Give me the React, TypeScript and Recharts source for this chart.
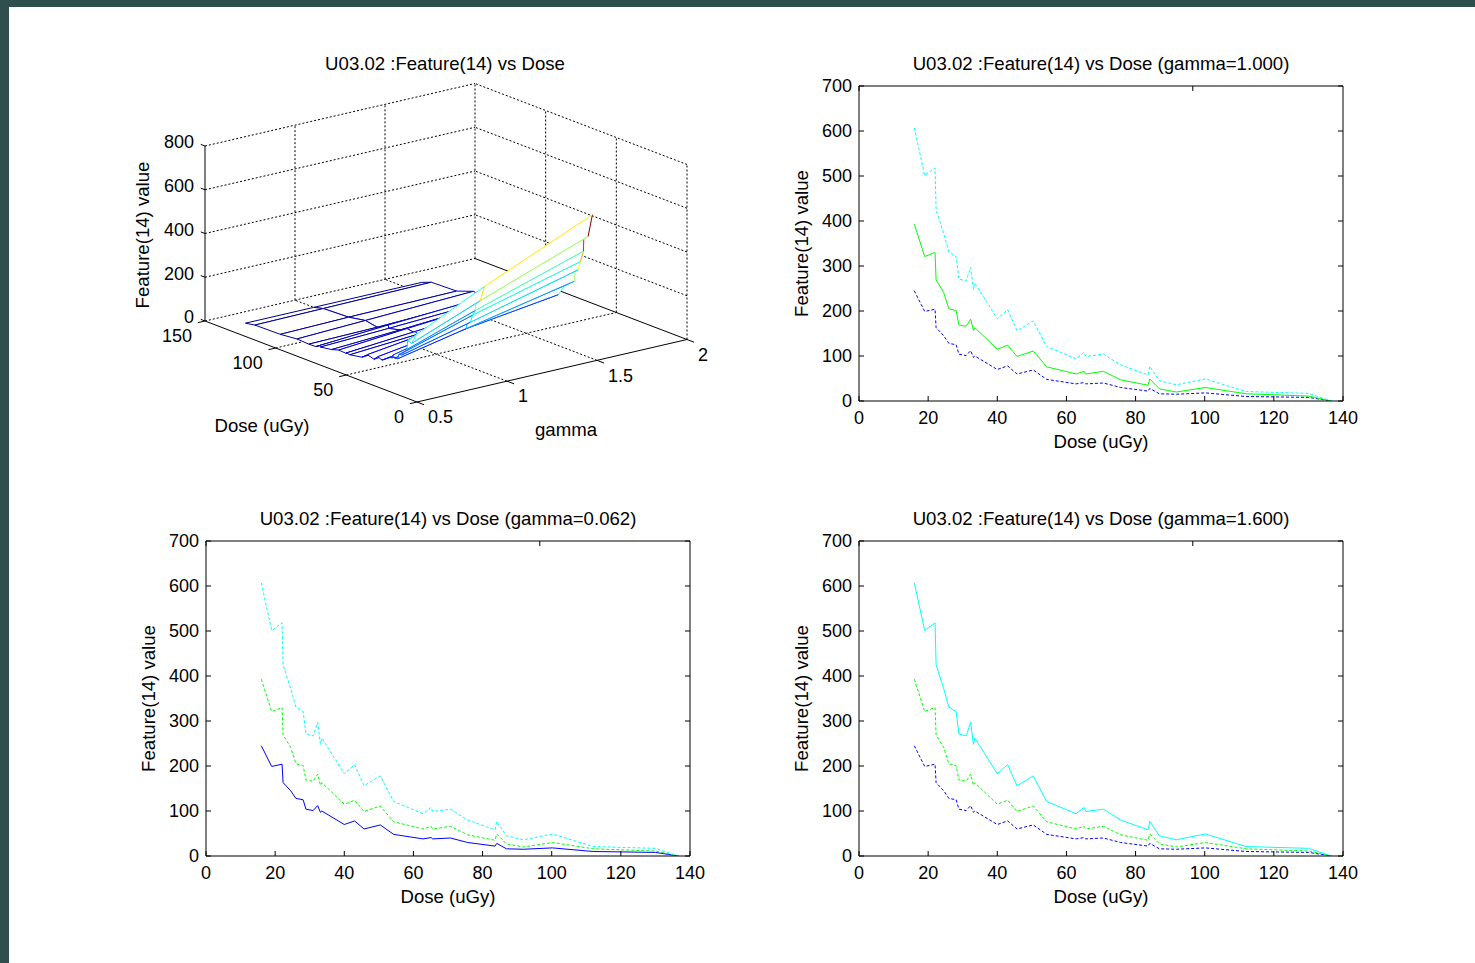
import React from 'react';
import { LineChart, Line, XAxis, YAxis, Label, ScatterChart, Scatter } from 'recharts';

// dose points (uGy) shared by all series
const DOSE = [16, 19, 22, 22.3, 24.5, 26, 28.1, 28.9, 31, 32.3, 33.1, 33.5, 40, 43, 45.7, 50.4, 54.3, 62.8, 65.1, 65.6, 70.7, 75.7, 83.6, 84.1, 86.9, 91.8, 100.2, 112, 130, 136.7];
// Feature(14) value per gamma
const FEAT_G0062 = [245, 199, 204, 163, 145, 128, 125, 104, 101, 112, 97, 100, 70, 78, 60, 69, 48, 38, 41, 38, 40, 30, 22, 28, 16, 15, 18, 10, 8, 0];
const FEAT_G1000 = [393, 321, 330, 269, 241, 205, 201, 169, 166, 182, 157, 163, 115, 124, 99, 111, 76, 60, 66, 60, 66, 47, 35, 49, 27, 20, 30, 16, 11, 0];
const FEAT_G1600 = [607, 501, 518, 425, 372, 331, 321, 271, 267, 297, 248, 262, 183, 203, 156, 178, 121, 94, 108, 99, 104, 80, 58, 77, 45, 36, 49, 21, 17, 0];

// gamma positions of the three mesh rows in the 3-D view
const MESH_GAMMA = [0.62, 1.0, 1.6];

const X_TICKS = [0, 20, 40, 60, 80, 100, 120, 140];
const Y_TICKS = [0, 100, 200, 300, 400, 500, 600, 700];
const Z_TICKS = [0, 200, 400, 600, 800];
const DOSE_TICKS = [0, 50, 100, 150];
const GAMMA_TICKS = [0.5, 1, 1.5, 2];

const FONT = '"Liberation Sans", Arial, Helvetica, sans-serif';
const FS = 18;
const FS_LABEL = 18.6;
const TICK = 5;

const ROWS = DOSE.map((d, i) => ({ dose: d, blue: FEAT_G0062[i], green: FEAT_G1000[i], cyan: FEAT_G1600[i] }));

const BottomTick = (p: any) => (
  <g>
    <line x1={p.x} y1={p.y} x2={p.x} y2={p.y - TICK} stroke="#000" />
    <text x={p.x} y={p.y + 17} dy="0.35em" textAnchor="middle" fontSize={FS} fontFamily={FONT} fill="#000">{p.payload.value}</text>
  </g>
);
const TopTick = (p: any) => <line x1={p.x} y1={p.y} x2={p.x} y2={p.y + TICK} stroke="#000" />;
const LeftTick = (p: any) => (
  <g>
    <line x1={p.x} y1={p.y} x2={p.x + TICK} y2={p.y} stroke="#000" />
    <text x={p.x - 7} y={p.y} dy="0.35em" textAnchor="end" fontSize={FS} fontFamily={FONT} fill="#000">{p.payload.value}</text>
  </g>
);
const RightTick = (p: any) => <line x1={p.x} y1={p.y} x2={p.x - TICK} y2={p.y} stroke="#000" />;

const txt = { fontSize: FS, fontFamily: FONT, fill: '#000' };
const lbl = { fontSize: FS_LABEL, fontFamily: FONT, fill: '#000' };

function FeaturePlot({ title, solid, left, top }: { title: string; solid: string; left: number; top: number }) {
  const W = 484;
  const H = 315;
  // axes take 1px each, margins make up the rest
  const M = { top: 49, right: 19, bottom: 69, left: 99 };
  const series = [
    { key: 'blue', color: '#0000ff' },
    { key: 'green', color: '#00ff00' },
    { key: 'cyan', color: '#00ffff' },
  ];
  return (
    <div style={{ position: 'absolute', left: left - M.left - 1, top: top - M.top - 1 }}>
      <LineChart width={W + M.left + M.right + 2} height={H + M.top + M.bottom + 2} data={ROWS} margin={M}>
        <XAxis type="number" dataKey="dose" domain={[0, 140]} ticks={X_TICKS} interval={0} allowDataOverflow
          height={1} tickSize={0} tickMargin={0} tickLine={false} axisLine={{ stroke: '#000' }} tick={BottomTick}
          label={<Label content={(lp: any) => (
            <text x={lp.viewBox.x + lp.viewBox.width / 2} y={lp.viewBox.y + 40} dy="0.35em" textAnchor="middle" {...lbl}>Dose (uGy)</text>
          )} />} />
        <XAxis xAxisId="top" orientation="top" type="number" domain={[0, 140]} ticks={X_TICKS} interval={0} allowDataOverflow
          height={1} tickSize={0} tickMargin={0} tickLine={false} axisLine={{ stroke: '#000' }} tick={TopTick}
          label={<Label content={(lp: any) => (
            <text x={lp.viewBox.x + lp.viewBox.width / 2} y={lp.viewBox.y + lp.viewBox.height - 23} dy="0.35em" textAnchor="middle" {...lbl}>{title}</text>
          )} />} />
        <YAxis type="number" domain={[0, 700]} ticks={Y_TICKS} interval={0} allowDataOverflow
          width={1} tickSize={0} tickMargin={0} tickLine={false} axisLine={{ stroke: '#000' }} tick={LeftTick}
          label={<Label content={(lp: any) => {
            const cx = lp.viewBox.x + lp.viewBox.width - 58;
            const cy = lp.viewBox.y + lp.viewBox.height / 2;
            return <text x={cx} y={cy} dy="0.35em" textAnchor="middle" transform={`rotate(-90 ${cx} ${cy})`} {...lbl}>Feature(14) value</text>;
          }} />} />
        <YAxis yAxisId="right" orientation="right" type="number" domain={[0, 700]} ticks={Y_TICKS} interval={0} allowDataOverflow
          width={1} tickSize={0} tickMargin={0} tickLine={false} axisLine={{ stroke: '#000' }} tick={RightTick} />
        {series.map((s) => (
          <Line key={s.key} type="linear" dataKey={s.key} stroke={s.color} strokeWidth={1}
            strokeDasharray={s.key === solid ? undefined : '3 2'} dot={false} activeDot={false} isAnimationActive={false} />
        ))}
      </LineChart>
    </div>
  );
}

// ---- 3-D mesh view ----
// screen placement of the box (page px); origin = (dose 0, gamma 0.5, value 0)
const ORIGIN = { x: 417, y: 402 };
const DOSE_VEC = { x: -212, y: -81 }; // dose 0 -> 150
const GAMMA_VEC = { x: 270, y: -62.5 }; // gamma 0.5 -> 2
const Z_LEN = 175; // value 0 -> 800

function proj(d: number, g: number, z: number) {
  const u = d / 150;
  const v = (g - 0.5) / 1.5;
  return {
    x: ORIGIN.x + DOSE_VEC.x * u + GAMMA_VEC.x * v,
    y: ORIGIN.y + DOSE_VEC.y * u + GAMMA_VEC.y * v - Z_LEN * (z / 800),
  };
}

function jet(t: number) {
  const c = (v: number) => Math.round(255 * Math.max(0, Math.min(1, v)));
  return `rgb(${c(1.5 - Math.abs(4 * t - 3))},${c(1.5 - Math.abs(4 * t - 2))},${c(1.5 - Math.abs(4 * t - 1))})`;
}

const GRID_DASHED = [
  ...[1, 1.5].flatMap((g) => [proj(0, g, 0), proj(150, g, 0)]),
  ...[50, 100, 150].flatMap((d) => [proj(d, 0.5, 0), proj(d, 2, 0)]),
  ...Z_TICKS.slice(1).flatMap((z) => [proj(150, 0.5, z), proj(150, 2, z)]),
  ...[1, 1.5, 2].flatMap((g) => [proj(150, g, 0), proj(150, g, 800)]),
  ...Z_TICKS.slice(1).flatMap((z) => [proj(0, 2, z), proj(150, 2, z)]),
  ...[0, 50, 100].flatMap((d) => [proj(d, 2, 0), proj(d, 2, 800)]),
];

const AXES_SOLID = [
  proj(150, 0.5, 0), proj(150, 0.5, 800),
  proj(0, 0.5, 0), proj(150, 0.5, 0),
  proj(0, 0.5, 0), proj(0, 2, 0),
  proj(0, 2, 0), proj(150, 2, 0),
  ...Z_TICKS.flatMap((z) => [proj(150, 0.5, z), proj(153, 0.5, z)]),
  ...DOSE_TICKS.flatMap((d) => [proj(d, 0.5, 0), proj(d, 0.46, 0)]),
  ...GAMMA_TICKS.flatMap((g) => [proj(0, g, 0), proj(-5, g, 0)]),
];

const Z_LABELS = Z_TICKS.map((z) => ({ ...proj(150, 0.5, z), label: String(z) }));
const DOSE_LABELS = DOSE_TICKS.map((d) => ({ ...proj(d, 0.5, 0), label: String(d) }));
const GAMMA_LABELS = GAMMA_TICKS.map((g) => ({ ...proj(0, g, 0), label: String(g) }));

const ZS = [FEAT_G0062, FEAT_G1000, FEAT_G1600];
const ZMAX = Math.max(...FEAT_G1600);

type Quad = { pts: { x: number; y: number }[]; colors: string[]; depth: number };
const QUADS: Quad[] = [];
for (let j = 0; j < MESH_GAMMA.length - 1; j++) {
  for (let i = 0; i < DOSE.length - 1; i++) {
    const corners = [[i, j], [i + 1, j], [i + 1, j + 1], [i, j + 1]];
    const pts = corners.map(([a, b]) => proj(DOSE[a], MESH_GAMMA[b], ZS[b][a]));
    const col = (a: number, b: number) => jet(ZS[b][a] / ZMAX);
    const colors = [col(i, j), col(i + 1, j), col(i, j + 1), col(i, j)];
    const depth = proj((DOSE[i] + DOSE[i + 1]) / 2, (MESH_GAMMA[j] + MESH_GAMMA[j + 1]) / 2, 0).y;
    QUADS.push({ pts, colors, depth });
  }
}
QUADS.sort((a, b) => a.depth - b.depth);

const noDot = () => <g />;

const segs = (style: any) => (lp: any) => {
  const p = lp.points || [];
  const out: any[] = [];
  for (let k = 0; k + 1 < p.length; k += 2) {
    out.push(<line key={k} x1={p[k].x} y1={p[k].y} x2={p[k + 1].x} y2={p[k + 1].y} {...style} />);
  }
  return <g>{out}</g>;
};

const quadDraw = (colors: string[]) => (lp: any) => {
  const p = lp.points || [];
  if (p.length < 4) return <g />;
  return (
    <g>
      <polygon points={p.map((q: any) => `${q.x},${q.y}`).join(' ')} fill="#fff" stroke="none" />
      {[0, 1, 2, 3].map((k) => (
        <line key={k} x1={p[k].x} y1={p[k].y} x2={p[(k + 1) % 4].x} y2={p[(k + 1) % 4].y} stroke={colors[k]} strokeWidth={1} />
      ))}
    </g>
  );
};

const textShape = (dx: number, dy: number, anchor: string) => (p: any) => (
  <text x={p.cx + dx} y={p.cy + dy} dy="0.35em" textAnchor={anchor} {...txt}>{p.payload.label}</text>
);

const LABELS_3D = [
  { x: 445, y: 63, label: 'U03.02 :Feature(14) vs Dose', rot: 0 },
  { x: 262, y: 425, label: 'Dose (uGy)', rot: 0 },
  { x: 566, y: 429, label: 'gamma', rot: 0 },
  { x: 142, y: 235, label: 'Feature(14) value', rot: -90 },
];
const labelShape = (p: any) => (
  <text x={p.cx} y={p.cy} dy="0.35em" textAnchor="middle" transform={p.payload.rot ? `rotate(${p.payload.rot} ${p.cx} ${p.cy})` : undefined} {...lbl}>{p.payload.label}</text>
);

const BOX = { x0: 100, x1: 760, y0: 30, y1: 470 };

function Surface3D() {
  return (
    <div style={{ position: 'absolute', left: BOX.x0, top: BOX.y0 }}>
      <ScatterChart width={BOX.x1 - BOX.x0} height={BOX.y1 - BOX.y0} margin={{ top: 0, right: 0, bottom: 0, left: 0 }}>
        <XAxis type="number" dataKey="x" domain={[BOX.x0, BOX.x1]} allowDataOverflow hide />
        <YAxis type="number" dataKey="y" domain={[BOX.y0, BOX.y1]} allowDataOverflow reversed hide />
        <Scatter data={GRID_DASHED} shape={noDot} line={segs({ stroke: '#000', strokeWidth: 1, strokeDasharray: '2 2' })} isAnimationActive={false} />
        <Scatter data={AXES_SOLID} shape={noDot} line={segs({ stroke: '#000', strokeWidth: 1 })} isAnimationActive={false} />
        {QUADS.map((q, k) => (
          <Scatter key={k} data={q.pts} shape={noDot} line={quadDraw(q.colors)} isAnimationActive={false} />
        ))}
        <Scatter data={Z_LABELS} shape={textShape(-11, -4, 'end')} isAnimationActive={false} />
        <Scatter data={DOSE_LABELS} shape={textShape(-13, 15, 'end')} isAnimationActive={false} />
        <Scatter data={GAMMA_LABELS} shape={textShape(11, 15, 'start')} isAnimationActive={false} />
        <Scatter data={LABELS_3D} shape={labelShape} isAnimationActive={false} />
      </ScatterChart>
    </div>
  );
}

export default function App() {
  return (
    <div style={{ position: 'absolute', left: 0, top: 0, width: 1475, height: 963, background: '#2f4f4f', overflow: 'hidden' }}>
      <div style={{ position: 'absolute', left: 9, top: 7, right: 0, bottom: 0, background: '#fff' }} />
      <Surface3D />
      <FeaturePlot title="U03.02 :Feature(14) vs Dose (gamma=1.000)" solid="green" left={859} top={86} />
      <FeaturePlot title="U03.02 :Feature(14) vs Dose (gamma=0.062)" solid="blue" left={206} top={541} />
      <FeaturePlot title="U03.02 :Feature(14) vs Dose (gamma=1.600)" solid="cyan" left={859} top={541} />
    </div>
  );
}
